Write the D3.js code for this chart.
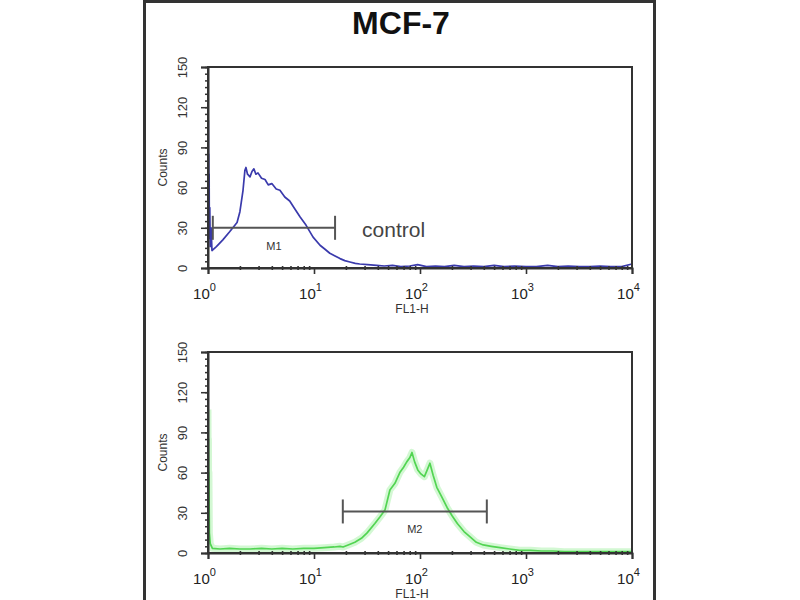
<!DOCTYPE html>
<html>
<head>
<meta charset="utf-8">
<script src="https://cdn.jsdelivr.net/npm/d3@7"></script>
<style>
  html, body { margin: 0; padding: 0; background: #fff; }
  svg { display: block; font-family: "Liberation Sans", Arial, sans-serif; }
</style>
</head>
<body>
<svg id="chart" width="800" height="600"></svg>
<script>
// ---- data ----
const title = "MCF-7";
const xTickExps = [0, 1, 2, 3, 4];
const yTicks = [0, 30, 60, 90, 120, 150];
const xLabel = "FL1-H";
const yLabel = "Counts";

const controlFL = [1.0, 1.004, 1.008, 1.012, 1.016, 1.02, 1.025, 1.03, 1.04, 1.05, 1.07, 1.09, 1.2, 1.38, 1.6, 1.88, 2.0, 2.14, 2.23, 2.28, 2.36, 2.49, 2.6, 2.71, 2.83, 2.96, 3.2, 3.45, 3.7, 4.0, 4.4, 4.77, 5.3, 5.9, 6.6, 7.4, 8.4, 9.8, 11.4, 12.7, 14.1, 15.8, 17.6, 19.5, 21.8, 24.5, 27, 32, 39, 46, 55, 66, 80, 95, 115, 140, 170, 210, 260, 320, 400, 500, 620, 780, 1000, 1250, 1600, 2000, 2500, 3200, 4000, 5000, 6300, 8000, 10000];
const controlCounts = [150, 60, 110, 40, 85, 30, 70, 22, 45, 16, 30, 13, 16, 21, 27, 34, 42, 58, 73, 75, 70, 68, 72, 74, 70, 71, 67, 66, 62, 63, 59, 58, 53, 50, 44, 38, 32, 23, 17, 14, 11, 9, 7, 5.5, 4.5, 3.5, 3, 2.5, 2, 1.5, 2, 1, 1.5, 2.5, 1, 1.5, 1, 2, 1, 1.5, 1, 2, 1, 1.5, 1, 1, 2, 1, 1.5, 1, 1, 1.5, 1, 1, 3];

const sampleFL = [1.0, 1.005, 1.01, 1.015, 1.02, 1.03, 1.05, 1.1, 1.3, 1.6, 2.0, 2.5, 3.2, 4.0, 5.0, 6.3, 8.0, 10, 12.5, 15.5, 17.6, 18.8, 21, 24.3, 28, 31.7, 37.5, 42, 46.7, 52, 58, 64.5, 70, 75, 80, 84, 89, 95.3, 102, 110, 117, 124, 133, 144, 160, 180, 200, 225, 260, 297, 340, 395, 470, 570, 700, 870, 1100, 1400, 1800, 2300, 3000, 4000, 5200, 7000, 10000];
const sampleCounts = [107, 55, 85, 30, 60, 15, 7, 3.5, 3, 3.5, 3, 3, 3.5, 3, 3.5, 3, 3.5, 3.5, 4, 4.5, 5, 4.5, 6, 8, 11, 15, 22, 27, 32, 47, 52, 60, 64, 68, 71, 75, 68, 62, 59, 57, 62, 67, 58, 49, 42, 34, 28, 22, 16, 12, 8, 6, 5, 4, 3, 2, 2, 1.5, 1.5, 1, 1, 1, 1, 1, 1];

const markerM1 = [1.11, 15.8];
const markerM2 = [18.7, 427];
const markerLevels = [30, 31];
const markerNames = ["M1", "M2"];
const panelNames = ["control", ""];

// ---- layout ----
const svg = d3.select("#chart");
const W = 800, H = 600;
svg.append("rect").attr("width", W).attr("height", H).attr("fill", "#fff");

// outer frame
svg.append("path")
  .attr("d", "M144.5,600 L144.5,1.5 L654.5,1.5 L654.5,600")
  .attr("fill", "none").attr("stroke", "#333").attr("stroke-width", 3);

svg.append("text")
  .attr("x", 401).attr("y", 34)
  .attr("text-anchor", "middle")
  .attr("font-weight", "bold").attr("font-size", 32)
  .attr("fill", "#111")
  .text(title);

const panels = [
  { top: 67, bottom: 268, fl: controlFL, counts: controlCounts, color: "#3a3aac", glow: null,
    marker: markerM1, level: markerLevels[0], mname: markerNames[0], note: panelNames[0] },
  { top: 352, bottom: 553, fl: sampleFL, counts: sampleCounts, color: "#52d452", glow: "rgba(130,235,130,0.35)",
    marker: markerM2, level: markerLevels[1], mname: markerNames[1], note: panelNames[1] }
];

const left = 208, right = 632;

panels.forEach((p, i) => {
  const x = d3.scaleLog().domain([1, 1e4]).range([left, right]);
  const y = d3.scaleLinear().domain([0, 150]).range([p.bottom, p.top]);
  const g = svg.append("g");

  const clipId = "clip" + i;
  svg.append("clipPath").attr("id", clipId)
    .append("rect").attr("x", left).attr("y", p.top).attr("width", right - left).attr("height", p.bottom - p.top);

  const data = p.fl.map((v, k) => [v, p.counts[k]]);
  const line = d3.line().x(d => x(d[0])).y(d => y(d[1]));

  const lg = g.append("g").attr("clip-path", `url(#${clipId})`);
  if (p.glow) {
    lg.append("path").datum(data).attr("d", line)
      .attr("fill", "none").attr("stroke", p.glow).attr("stroke-width", 7)
      .attr("stroke-linejoin", "round");
  }
  lg.append("path").datum(data).attr("d", line)
    .attr("fill", "none").attr("stroke", p.color).attr("stroke-width", 1.7)
    .attr("stroke-linejoin", "round");

  // marker bar
  const mx0 = x(p.marker[0]), mx1 = x(p.marker[1]), my = y(p.level);
  const mg = g.append("g").attr("stroke", "#555").attr("stroke-width", 2);
  mg.append("line").attr("x1", mx0).attr("x2", mx1).attr("y1", my).attr("y2", my);
  mg.append("line").attr("x1", mx0).attr("x2", mx0).attr("y1", my - 12).attr("y2", my + 12);
  mg.append("line").attr("x1", mx1).attr("x2", mx1).attr("y1", my - 12).attr("y2", my + 12);
  g.append("text")
    .attr("x", (mx0 + mx1) / 2).attr("y", my + 22)
    .attr("text-anchor", "middle").attr("font-size", 11).attr("fill", "#333")
    .text(p.mname);

  if (p.note) {
    g.append("text").attr("x", mx1 + 27).attr("y", my + 9)
      .attr("font-size", 21).attr("fill", "#444").text(p.note);
  }

  // frame
  g.append("rect").attr("x", left).attr("y", p.top)
    .attr("width", right - left).attr("height", p.bottom - p.top)
    .attr("fill", "none").attr("stroke", "#333").attr("stroke-width", 2);

  // y axis minor ticks
  const yMinor = d3.range(0, 151, 5);
  const yMinorAxis = d3.axisLeft(y).tickValues(yMinor).tickSize(3).tickFormat("");
  g.append("g").attr("transform", `translate(${left},0)`).call(yMinorAxis)
    .call(s => s.select(".domain").remove())
    .selectAll("line").attr("stroke", "#333").attr("stroke-width", 1.5);

  // y axis major
  const yAxis = d3.axisLeft(y).tickValues(yTicks).tickSize(7).tickPadding(0).tickFormat(d3.format("d"));
  const ya = g.append("g").attr("transform", `translate(${left},0)`).call(yAxis);
  ya.select(".domain").attr("stroke", "#333").attr("stroke-width", 2);
  ya.selectAll("line").attr("stroke", "#333").attr("stroke-width", 1.5);
  ya.selectAll("text")
    .attr("x", null).attr("dy", null)
    .attr("transform", "translate(-21,0) rotate(-90)")
    .attr("text-anchor", "middle")
    .attr("dy", "0")
    .attr("font-size", 13).attr("fill", "#333")
    .style("font-family", "'Liberation Sans', Arial, sans-serif");

  g.append("text")
    .attr("transform", `translate(167,${(p.top + p.bottom) / 2}) rotate(-90)`)
    .attr("text-anchor", "middle").attr("font-size", 12).attr("fill", "#333")
    .text(yLabel);

  // x axis minor ticks
  const xMinor = [];
  [1, 10, 100, 1000].forEach(dec => { for (let m = 2; m <= 9; m++) xMinor.push(dec * m); });
  const xMinorAxis = d3.axisBottom(x).tickValues(xMinor).tickSize(4).tickFormat("");
  g.append("g").attr("transform", `translate(0,${p.bottom - 2})`).call(xMinorAxis)
    .call(s => s.select(".domain").remove())
    .selectAll("line").attr("stroke", "#333").attr("stroke-width", 1.6);

  // x axis major
  const xAxis = d3.axisBottom(x).tickValues(xTickExps.map(e => Math.pow(10, e))).tickSize(6).tickFormat("");
  const xa = g.append("g").attr("transform", `translate(0,${p.bottom})`).call(xAxis);
  xa.select(".domain").attr("stroke", "#333").attr("stroke-width", 2);
  xa.selectAll("line").attr("stroke", "#333").attr("stroke-width", 1.6);
  xa.selectAll(".tick").each(function(d, k) {
    const t = d3.select(this).append("text")
      .attr("y", 31).attr("x", -4).attr("text-anchor", "middle")
      .attr("font-size", 15).attr("fill", "#222")
      .style("font-family", "'Liberation Sans', Arial, sans-serif");
    t.append("tspan").text("10");
    t.append("tspan").attr("dy", -8).attr("font-size", 11).text(String(xTickExps[k]));
  });

  g.append("text")
    .attr("x", (left + right) / 2 - 8).attr("y", p.bottom + 45)
    .attr("text-anchor", "middle").attr("font-size", 12).attr("fill", "#333")
    .text(xLabel);
});
</script>
</body>
</html>
